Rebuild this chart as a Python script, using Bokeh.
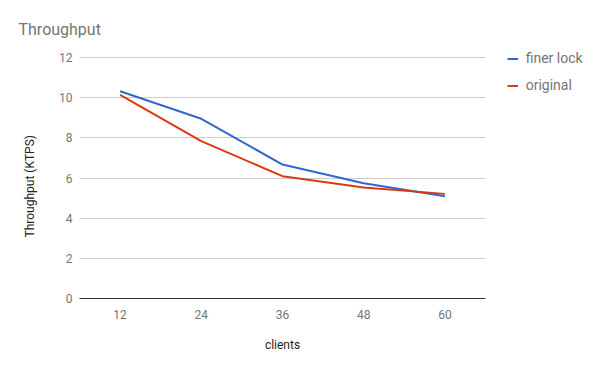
from bokeh.plotting import figure
from bokeh.models import (Range1d, FactorRange, FixedTicker, Legend, LegendItem,
                          ColumnDataSource, Title)
from bokeh.embed import file_html
from bokeh.resources import INLINE

clients = ["12", "24", "36", "48", "60"]
finer_lock = [10.32, 8.95, 6.67, 5.74, 5.09]
original = [10.14, 7.84, 6.09, 5.53, 5.21]
y_ticks = [0, 2, 4, 6, 8, 10, 12]

FONT = "Roboto"
GRAY = "#757575"
DARK = "#222222"

p = figure(frame_width=406, frame_height=247, output_backend="svg", toolbar_location=None,
           x_range=FactorRange(*clients, range_padding=0),
           y_range=Range1d(0, 12.3),
           min_border_left=79, min_border_top=51, min_border_right=115, min_border_bottom=73)
p.outline_line_color = None
p.background_fill_color = "white"
p.border_fill_color = "white"

p.title.text = "Throughput"
p.title.text_font = FONT
p.title.text_font_size = "16px"
p.title.text_font_style = "normal"
p.title.text_color = GRAY
p.title.align = "left"
p.title.offset = -61
p.title.standoff = 25

src = ColumnDataSource(dict(x=clients, a=finer_lock, b=original))
r1 = p.line("x", "a", source=src, line_color="#3366cc", line_width=2)
r2 = p.line("x", "b", source=src, line_color="#dc3912", line_width=2)

p.xgrid.grid_line_color = None
p.ygrid.grid_line_color = "#cccccc"
p.ygrid.ticker = FixedTicker(ticks=y_ticks)

p.yaxis.ticker = FixedTicker(ticks=y_ticks)
p.yaxis.axis_line_color = None
p.yaxis.major_tick_line_color = None
p.yaxis.minor_tick_line_color = None
p.yaxis.major_tick_out = 0
p.yaxis.major_tick_in = 0
p.yaxis.major_label_standoff = 7
p.yaxis.major_label_text_font = FONT
p.yaxis.major_label_text_font_size = "12px"
p.yaxis.major_label_text_color = GRAY

p.add_layout(Title(text="Throughput (KTPS)", text_font=FONT, text_font_size="12px",
                   text_font_style="normal", text_color=DARK, align="left",
                   offset=61, standoff=40), "left")

p.xaxis.axis_line_color = "#333333"
p.xaxis.axis_line_width = 1
p.xaxis.major_tick_line_color = None
p.xaxis.minor_tick_line_color = None
p.xaxis.major_tick_out = 0
p.xaxis.major_tick_in = 0
p.xaxis.major_label_standoff = 11
p.xaxis.major_label_text_font = FONT
p.xaxis.major_label_text_font_size = "12px"
p.xaxis.major_label_text_color = GRAY
p.xaxis.axis_label = "clients"
p.xaxis.axis_label_text_font = FONT
p.xaxis.axis_label_text_font_size = "12px"
p.xaxis.axis_label_text_font_style = "normal"
p.xaxis.axis_label_text_color = DARK
p.xaxis.axis_label_standoff = 16

legend = Legend(items=[LegendItem(label="finer lock", renderers=[r1]),
                       LegendItem(label="original", renderers=[r2])],
                location=(21.7, 204.2), margin=0, padding=0, spacing=10,
                glyph_width=11, glyph_height=17, label_height=17, label_standoff=8,
                border_line_color=None, background_fill_alpha=0,
                label_text_font=FONT, label_text_font_size="14px", label_text_color=GRAY)
p.add_layout(legend, "right")

open("out.html", "w").write(file_html(p, INLINE))
